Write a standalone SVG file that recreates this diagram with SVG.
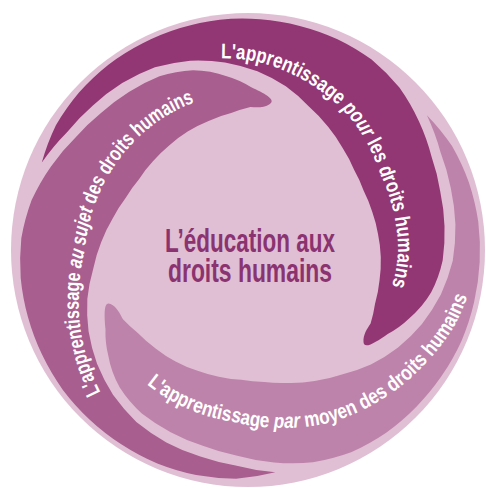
<svg xmlns="http://www.w3.org/2000/svg" xmlns:xlink="http://www.w3.org/1999/xlink" width="486" height="488" viewBox="0 0 486 488">
<defs>
<style>
.lbl{font-family:"Liberation Sans Narrow","Liberation Sans",Arial,sans-serif;font-weight:bold;font-size:21px;fill:#ffffff}
.it{font-style:italic}
.ctr{font-family:"Liberation Sans Narrow","Liberation Sans",Arial,sans-serif;font-weight:bold;font-size:34px;fill:#8b3370}
</style>
<path id="band" d="M 41.8 162.5 A 229 229 0 0 1 55.9 125.3 A 230 230 0 0 1 79.0 92.5 A 231 231 0 0 1 108.4 64.7 A 232 232 0 0 1 142.7 43.3 A 232 232 0 0 1 180.2 28.1 A 232 232 0 0 1 219.7 19.7 A 232 232 0 0 1 260.1 19.3 A 230 230 0 0 1 299.8 25.9 A 229 229 0 0 1 337.5 39.2 A 227 227 0 0 1 371.6 59.6 A 222 222 0 0 1 399.4 87.6 A 214 214 0 0 1 418.9 121.2 A 206 206 0 0 1 431.5 156.5 A 201 201 0 0 1 440.2 191.2 A 198 198 0 0 1 444.5 225.9 A 195 195 0 0 1 442.7 260.2 A 130 130 0 0 1 431.2 292.3 A 100 100 0 0 1 409.1 318.4 A 95 95 0 0 1 387.7 333.9 C 376 342 364 350 363.5 342 C 363 335 367 329 370.6 323.6 A 140 140 0 0 0 375.0 303.9 A 136 136 0 0 0 379.5 280.4 A 134 134 0 0 0 380.8 257.0 A 132 132 0 0 0 378.0 234.0 A 130 130 0 0 0 372.3 212.0 A 130 130 0 0 0 363.8 191.0 A 131 131 0 0 0 354.2 170.0 A 136 136 0 0 0 342.8 148.3 A 143 143 0 0 0 328.1 126.7 A 151 151 0 0 0 308.9 106.4 A 162 162 0 0 0 285.8 86.3 A 173 173 0 0 0 257.4 71.3 A 184 184 0 0 0 225.0 62.4 A 193 193 0 0 0 190.1 60.7 A 201 201 0 0 0 154.9 67.3 A 207 207 0 0 0 122.2 83.1 A 210 210 0 0 0 92.9 105.4 A 214 214 0 0 0 66.8 132.4 A 220 220 0 0 0 41.8 162.5 Z"/>
<path id="tp-pour" d="M 221.1 58.4 A 193 193 0 0 1 248 60 A 190 190 0 0 1 279.9 68.8 A 184 184 0 0 1 308.7 83.2 A 177 177 0 0 1 333.8 101.5 A 170 170 0 0 1 354.4 123.2 A 163 163 0 0 1 369.5 148.1 A 156 156 0 0 1 380.2 173.7 A 152 152 0 0 1 389.9 198.4 A 151 151 0 0 1 395.7 224 A 150 150 0 0 1 398 250 A 150 150 0 0 1 394.7 275.9 A 149 149 0 0 1 390.3 290.8"/>
<path id="tp-sujet" d="M 100.5 392.4 A 198 198 0 0 1 83.5 345 A 182 182 0 0 1 79 295.3 A 169 169 0 0 1 85 250 A 161 161 0 0 1 93.5 208.6 A 159 159 0 0 1 111.2 171 A 157 157 0 0 1 137 139 A 157 157 0 0 1 169.5 114 A 157 157 0 0 1 196.9 101.6"/>
<path id="tp-par" d="M 146.9 384.2 A 169 169 0 0 0 189.9 409.7 A 171 171 0 0 0 233 421.8 A 176 176 0 0 0 279.4 427.9 A 185 185 0 0 0 328.6 422.8 A 195 195 0 0 0 376.2 402.8 A 204 204 0 0 0 419.2 369.9 A 214 214 0 0 0 454.7 325.2 A 222 222 0 0 0 468.9 292.9"/>
</defs>
<g id="background">
<circle cx="248" cy="250" r="237" fill="#e0bfd4"/>
</g>
<g id="band-pour">
<use xlink:href="#band" href="#band" fill="#923773"/>
<text class="lbl"><textPath xlink:href="#tp-pour" href="#tp-pour" textLength="326" lengthAdjust="spacingAndGlyphs">L'apprentissage <tspan class="it">pour</tspan> les droits humains</textPath></text>
</g>
<g id="band-sujet">
<use xlink:href="#band" href="#band" fill="#a85e8e" transform="rotate(-120 248 250)"/>
<text class="lbl"><textPath xlink:href="#tp-sujet" href="#tp-sujet" textLength="340" lengthAdjust="spacingAndGlyphs">L'apprentissage <tspan class="it">au sujet</tspan> des droits humains</textPath></text>
</g>
<g id="band-par">
<use xlink:href="#band" href="#band" fill="#be83aa" transform="rotate(120 248 250)"/>
<text class="lbl"><textPath xlink:href="#tp-par" href="#tp-par" textLength="386" lengthAdjust="spacingAndGlyphs">L'apprentissage <tspan class="it">par</tspan> moyen des droits humains</textPath></text>
</g>
<g id="center">
<text class="ctr" x="165" y="252" textLength="170" lengthAdjust="spacingAndGlyphs">L’éducation aux</text>
<text class="ctr" x="168" y="282" textLength="164" lengthAdjust="spacingAndGlyphs">droits humains</text>
</g>
</svg>
